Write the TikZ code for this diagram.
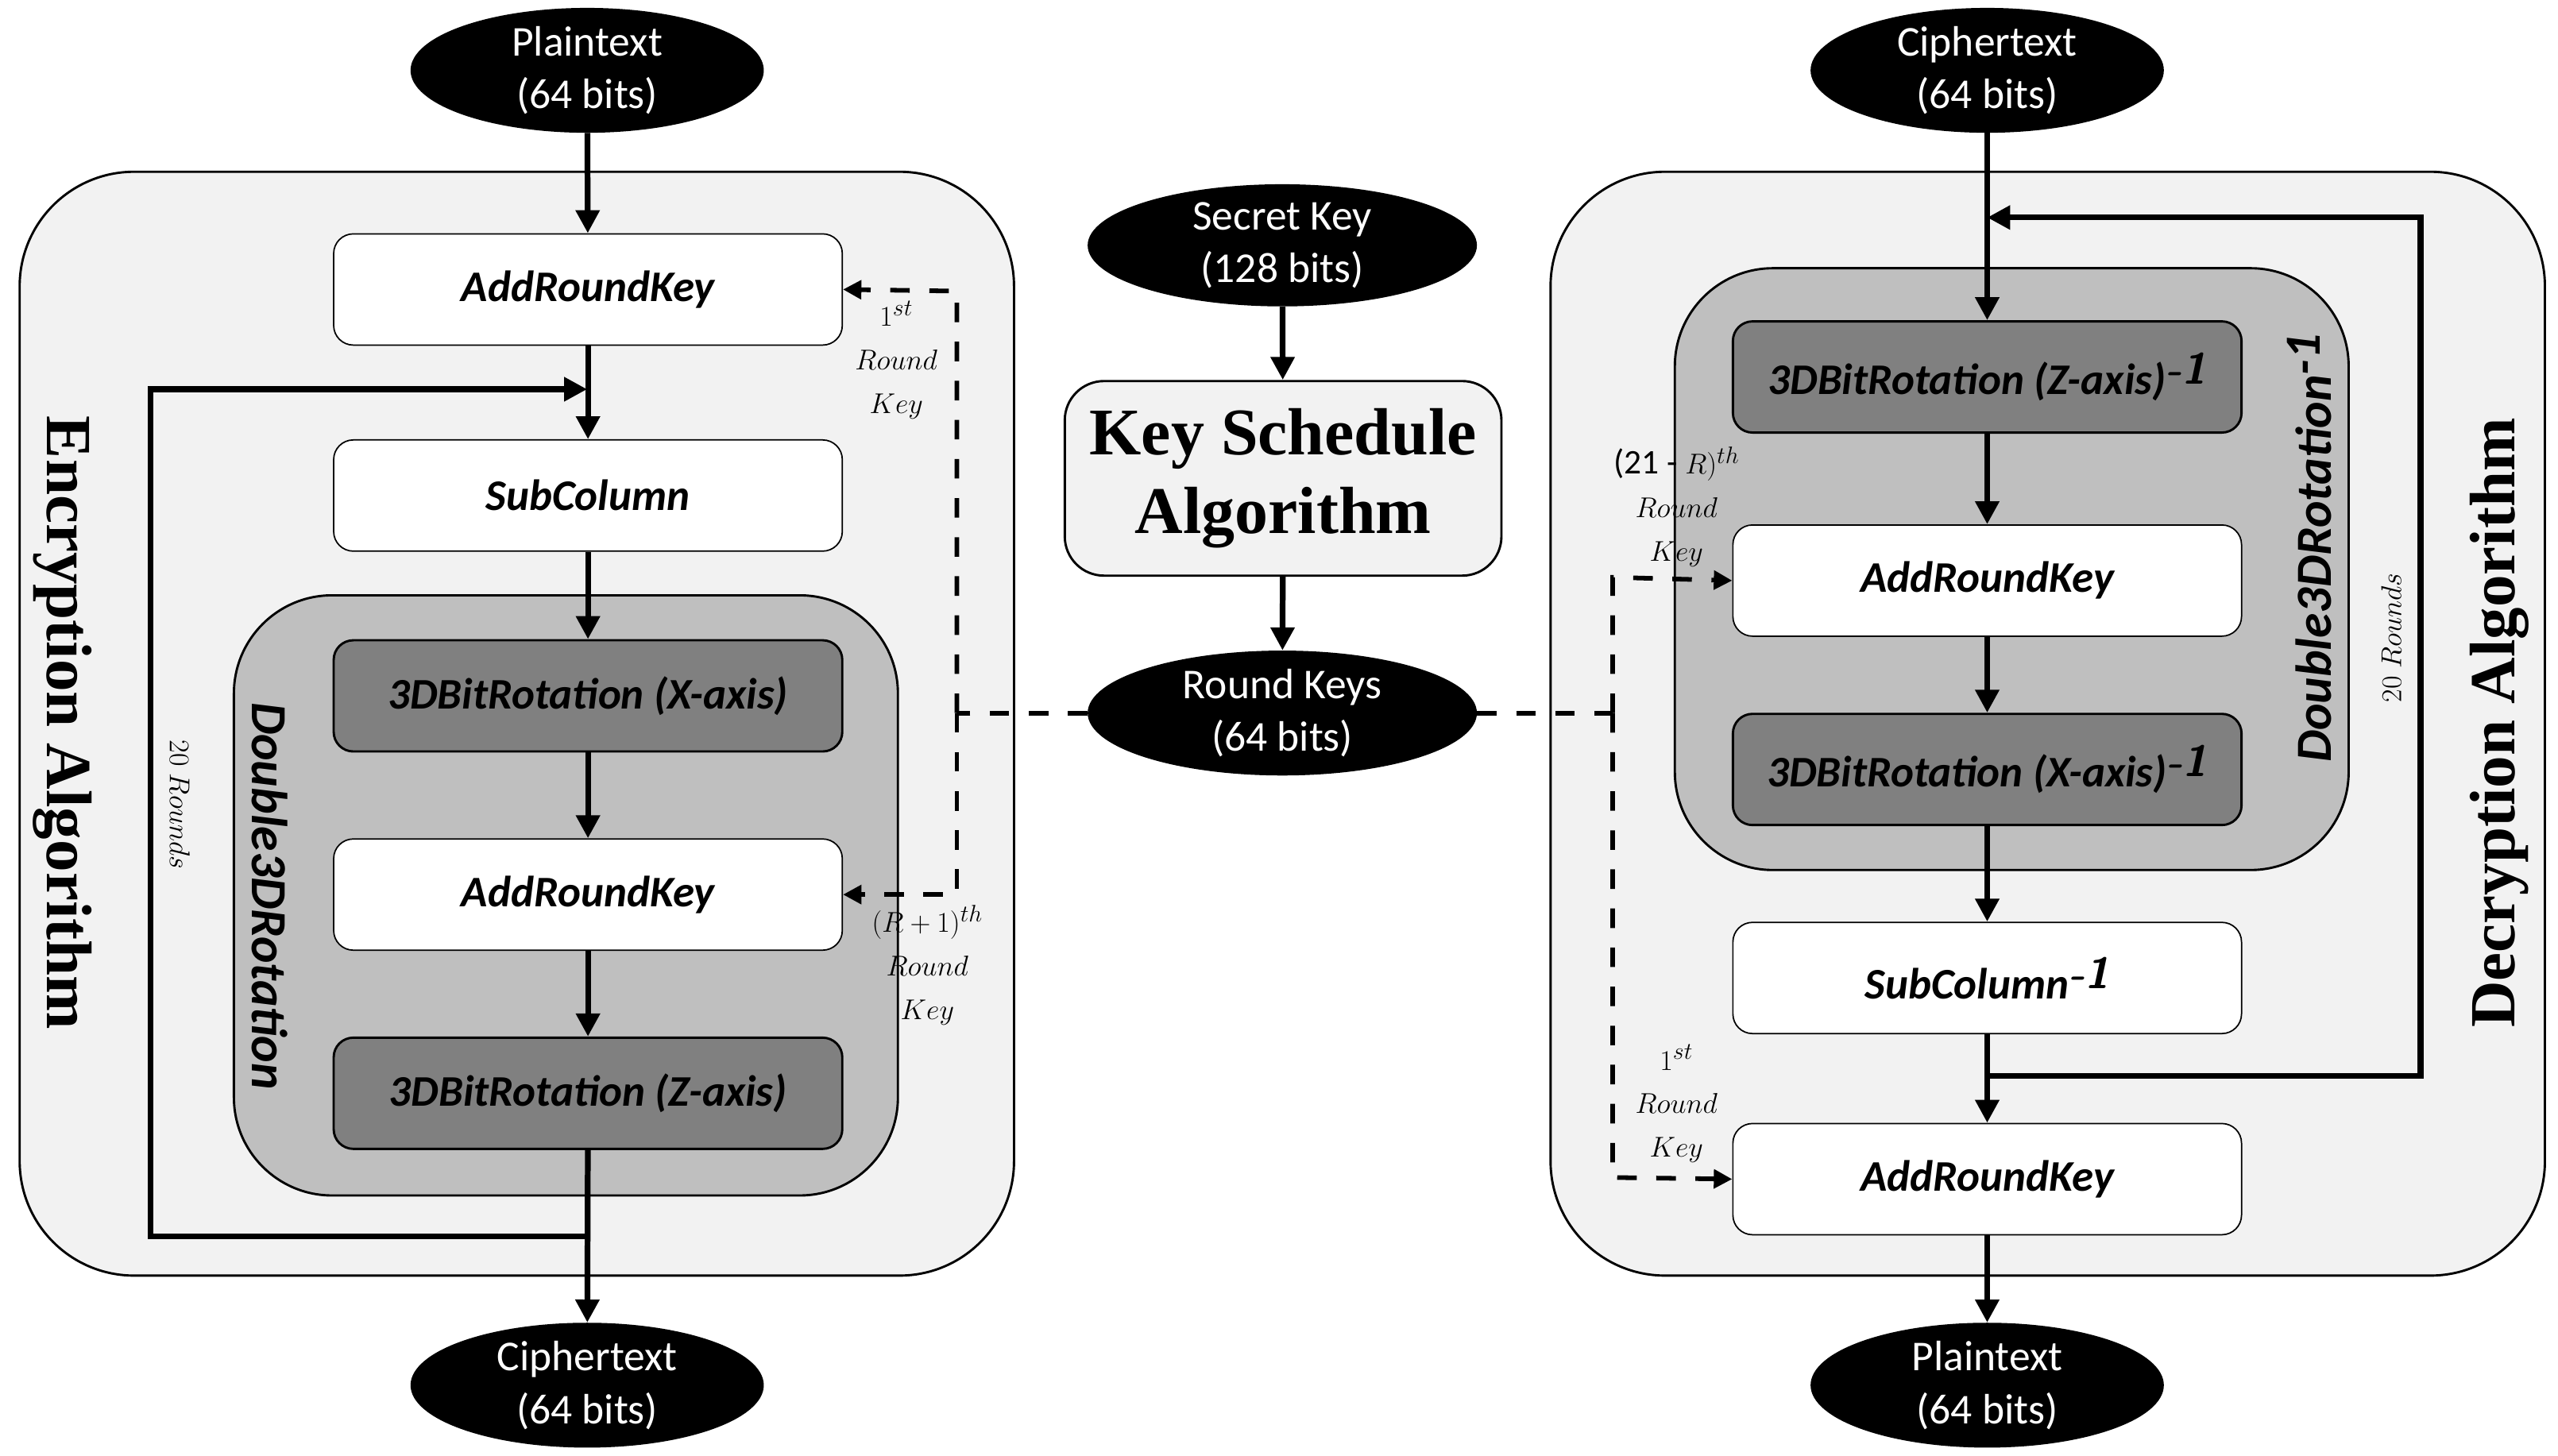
\documentclass[tikz,border=0pt]{standalone}
\usepackage{fontspec}
\setmainfont{Carlito}
\newfontfamily\serifb{Liberation Serif}
\usetikzlibrary{arrows.meta,shapes.geometric,positioning}
\begin{document}
\begin{tikzpicture}[x=0.05cm,y=-0.05cm,
  outer/.style={draw=black,line width=2pt,fill=black!5,rounded corners=3.5cm,inner sep=0},
  dbl/.style={draw=black,line width=2pt,fill=black!25,rounded corners=3cm,inner sep=0},
  wbox/.style={draw=black,line width=1.2pt,fill=white,rounded corners=0.6cm,minimum width=15.55cm,minimum height=3.4cm,font=\fontsize{38}{44}\selectfont\bfseries\itshape},
  gbox/.style={wbox,line width=2pt,fill=black!50},
  ell/.style={ellipse,fill=black,text=white,minimum width=10.8cm,minimum height=3.6cm,inner sep=0,align=center,font=\fontsize{37}{46}\selectfont},
  arr/.style={line width=5pt,-{Triangle[length=20pt,width=20pt]}},
  dsh/.style={line width=4pt,dash pattern=on 17pt off 17pt},
  dar/.style={line width=4pt,dash pattern=on 17pt off 17pt,-{Triangle[length=16pt,width=16pt]}},
  lbl/.style={align=center,font=\fontsize{30}{38}\selectfont,inner sep=0},
  rnd/.style={font=\fontsize{28}{32}\selectfont,inner sep=0}]
\useasboundingbox[fill=white] (0,0) rectangle (1564,890);
% outer boxes
\node[outer,minimum width=30.4cm,minimum height=33.75cm] (encbox) at (316,442.5) {};
\node[outer,minimum width=30.4cm,minimum height=33.75cm] (decbox) at (1252,442.5) {};
\node[dbl,minimum width=20.3cm,minimum height=18.35cm] (encdbl) at (346,547.5) {};
\node[dbl,minimum width=20.6cm,minimum height=18.4cm] (decdbl) at (1230,348) {};
% encryption
\node[ell] (pt1) at (359,43) {Plaintext\\(64 bits)};
\node[wbox] (ark1) at (359.5,177) {AddRoundKey};
\node[wbox] (sub) at (359.5,303) {SubColumn};
\node[gbox] (rx) at (359.5,425.5) {3DBitRotation (X-axis)};
\node[wbox] (ark2) at (359.5,547) {AddRoundKey};
\node[gbox] (rz) at (359.5,668.5) {3DBitRotation (Z-axis)};
\node[ell] (ct1) at (359,847) {Ciphertext\\(64 bits)};
\draw[arr] (pt1) -- (ark1);
\draw[arr] (ark1) -- (sub);
\draw[arr] (sub) -- (rx);
\draw[arr] (rx) -- (ark2);
\draw[arr] (ark2) -- (rz);
\draw[arr] (rz) -- (ct1);
\coordinate (el) at (359,756);
\coordinate (ein) at (359,238);
\draw[line width=5pt,-{Triangle[length=20pt,width=20pt]}] (el) -- (92,756) -- (92,238) -- (ein);
\node[rnd,rotate=-90] (r20a) at (110,492) {$20\ Rounds$};
\node[rotate=-90,font=\fontsize{44}{50}\selectfont\bfseries\itshape,inner sep=0] (dlab) at (165,548) {Double3DRotation};
\node[rotate=-90,font=\serifb\fontsize{56}{60}\selectfont\bfseries,inner sep=0] (enclab) at (38,442) {Encryption Algorithm};
% center
\node[ell,minimum width=11.9cm] (sk) at (784,150) {Secret Key\\(128 bits)};
\node[draw=black,line width=2pt,fill=black!5,rounded corners=1.2cm,minimum width=13.35cm,minimum height=5.95cm,align=center,font=\serifb\fontsize{58}{68}\selectfont\bfseries] (ks) at (784.5,292.5) {Key Schedule\\Algorithm};
\node[ell,minimum width=11.9cm] (rk) at (784,436) {Round Keys\\(64 bits)};
\draw[arr] (sk) -- (ks);
\draw[arr] (ks) -- (rk);
% encryption key dashed
\coordinate (ej) at (585,436);
\draw[dsh] (rk.west) -- (ej);
\draw[dar] (585,436) -- (585,178) -- (ark1.east);
\draw[dar] (585,436) -- (585,547) -- (ark2.east);
\node[lbl] (l1) at (548,220) {$1^{st}$\\$Round$\\$Key$};
\node[lbl] (l2) at (567,590) {$(R+1)^{th}$\\$Round$\\$Key$};
% decryption
\node[ell] (ct2) at (1215,43) {Ciphertext\\(64 bits)};
\node[gbox] (dz) at (1215,230.5) {3DBitRotation (Z-axis)$^{\textsf{-1}}$};
\node[wbox] (dark1) at (1215,355) {AddRoundKey};
\node[gbox] (dx) at (1215,470.5) {3DBitRotation (X-axis)$^{\textsf{-1}}$};
\node[wbox] (dsub) at (1215,598) {SubColumn$^{\textsf{-1}}$};
\node[wbox] (dark2) at (1215,721) {AddRoundKey};
\node[ell] (pt2) at (1215,847) {Plaintext\\(64 bits)};
\draw[arr] (ct2) -- (dz);
\draw[arr] (dz) -- (dark1);
\draw[arr] (dark1) -- (dx);
\draw[arr] (dx) -- (dsub);
\draw[arr] (dsub) -- (dark2);
\draw[arr] (dark2) -- (pt2);
\coordinate (dl) at (1215,658);
\coordinate (din) at (1215,133);
\draw[line width=5pt,-{Triangle[length=20pt,width=20pt]}] (dl) -- (1480,658) -- (1480,133) -- (din);
\node[rnd,rotate=90] (r20b) at (1462,390) {$20\ Rounds$};
\node[rotate=90,font=\fontsize{44}{50}\selectfont\bfseries\itshape,inner sep=0] (dlab2) at (1412,335) {Double3DRotation$^{\textbf{-1}}$};
\node[rotate=90,font=\serifb\fontsize{56}{60}\selectfont\bfseries,inner sep=0] (declab) at (1528,442) {Decryption Algorithm};
\coordinate (dj) at (986,436);
\draw[dsh] (rk.east) -- (dj);
\draw[dar] (986,436) -- (986,353) -- (dark1.west);
\draw[dar] (986,436) -- (986,720) -- (dark2.west);
\node[lbl] (l3) at (1025,310) {(21 - $R)^{th}$\\$Round$\\$Key$};
\node[lbl] (l4) at (1025,675) {$1^{st}$\\$Round$\\$Key$};
\end{tikzpicture}
\end{document}
